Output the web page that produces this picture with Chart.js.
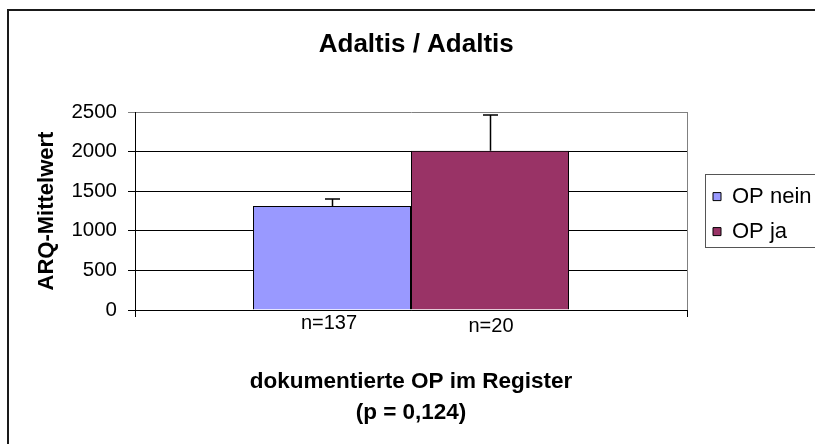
<!DOCTYPE html>
<html>
<head>
<meta charset="utf-8">
<script src="https://cdn.jsdelivr.net/npm/chart.js@4/dist/chart.umd.min.js"></script>
<style>
  html, body { margin: 0; padding: 0; background: #fff; }
  #wrap { width: 815px; height: 444px; }
</style>
</head>
<body>
<div id="wrap"><canvas id="c" width="815" height="444"></canvas></div>
<script>
// ---- data ----
const categories = ['dokumentierte OP im Register'];
const seriesNames = ['OP nein', 'OP ja'];
const meanValues = [1312, 2012];
const errorValues = [88, 450];
const sampleLabels = ['n=137', 'n=20'];
const yTicks = [0, 500, 1000, 1500, 2000, 2500];
const chartTitle = 'Adaltis / Adaltis';
const yTitle = 'ARQ-Mittelwert';
const xTitle = ['dokumentierte OP im Register', '(p = 0,124)'];

const colors = ['#9999FF', '#993366'];
const FONT = "'Liberation Sans', Arial, Helvetica, sans-serif";

Chart.defaults.font.family = FONT;
Chart.defaults.color = '#000';

const decorPlugin = {
  id: 'decor',
  afterLayout(chart) {
    const lg = chart.legend;
    if (lg) { lg.left += 13; lg.right += 13; }
    const tb = chart.titleBlock;
    if (tb) { tb.left += 12; tb.right += 12; }
  },
  beforeDraw(chart) {
    const ctx = chart.ctx;
    ctx.save();
    ctx.fillStyle = '#fff';
    ctx.fillRect(0, 0, chart.width, chart.height);
    ctx.fillStyle = '#1a1a1a';
    ctx.fillRect(7, 9, 2, 500);
    ctx.fillRect(7, 9, 900, 2);
    ctx.restore();
  },
  afterDraw(chart) {
    const ctx = chart.ctx;
    const a = chart.chartArea;
    ctx.save();
    ctx.strokeStyle = '#808080';
    ctx.lineWidth = 1;
    ctx.beginPath();
    ctx.moveTo(Math.round(a.right) + 0.5, a.top);
    ctx.lineTo(Math.round(a.right) + 0.5, a.bottom);
    ctx.stroke();
    const lg = chart.legend;
    if (lg && lg.legendHitBoxes && lg.legendHitBoxes.length) {
      const hb = lg.legendHitBoxes;
      const x0 = Math.round(hb[0].left) - 7.5;
      const y0 = Math.round(hb[0].top) - 11.5;
      const y1 = Math.round(hb[hb.length - 1].top + hb[hb.length - 1].height) + 4.5;
      ctx.strokeStyle = '#555';
      ctx.strokeRect(x0, y0, 300, y1 - y0);
    }
    ctx.restore();
  },
  afterDatasetsDraw(chart) {
    const ctx = chart.ctx;
    const yScale = chart.scales.y;
    const xScale = chart.scales.x;
    ctx.save();
    chart.data.datasets.forEach((ds, i) => {
      const meta = chart.getDatasetMeta(i);
      const bar = meta.data[0];
      if (!bar) return;
      const x = Math.round(bar.x) + 0.5;
      const yTop = yScale.getPixelForValue(meanValues[i] + errorValues[i]);
      ctx.strokeStyle = '#000';
      ctx.lineWidth = 1.5;
      ctx.beginPath();
      ctx.moveTo(x, bar.y);
      ctx.lineTo(x, yTop);
      ctx.moveTo(x - 7.5, yTop);
      ctx.lineTo(x + 7.5, yTop);
      ctx.stroke();
      ctx.fillStyle = '#000';
      ctx.font = '20px ' + FONT;
      ctx.textAlign = 'center';
      ctx.textBaseline = 'middle';
      const offs = [13, 16];
      ctx.fillText(sampleLabels[i], bar.x - (i === 0 ? 3 : -1), xScale.top + offs[i]);
    });
    ctx.restore();
  }
};

new Chart(document.getElementById('c'), {
  type: 'bar',
  data: {
    labels: categories,
    datasets: seriesNames.map((name, i) => ({
      label: name,
      data: [meanValues[i]],
      backgroundColor: colors[i],
      borderColor: '#000',
      borderWidth: 1,
      categoryPercentage: 0.5725,
      barPercentage: 1.0
    }))
  },
  options: {
    responsive: false,
    animation: false,
    devicePixelRatio: 1,
    layout: { padding: { top: 0, left: 0, right: 6.5, bottom: 15.8 } },
    plugins: {
      title: {
        display: true,
        text: chartTitle,
        color: '#000',
        font: { size: 26, weight: 'bold', family: FONT, lineHeight: 1.2 },
        padding: { top: 29.5, bottom: 51.3 }
      },
      legend: {
        display: true,
        position: 'right',
        align: 'center',
        labels: {
          color: '#000',
          font: { size: 22, family: FONT },
          boxWidth: 8,
          boxHeight: 8,
          padding: 13
        }
      },
      tooltip: { enabled: false }
    },
    scales: {
      x: {
        type: 'category',
        offset: true,
        ticks: { display: false },
        grid: {
          display: true,
          offset: true,
          drawOnChartArea: false,
          drawTicks: true,
          tickLength: 7,
          color: ['#000', '#808080']
        },
        border: { display: true, color: '#000', width: 1 },
        title: {
          display: true,
          text: xTitle,
          color: '#000',
          font: { size: 22.5, weight: 'bold', family: FONT, lineHeight: 1.37 },
          padding: { top: 0, bottom: 0 }
        },
        afterFit(scale) { scale.height = 118.2; }
      },
      y: {
        min: 0,
        max: 2500,
        afterBuildTicks(scale) { scale.ticks = yTicks.map(v => ({ value: v })); },
        ticks: {
          color: '#000',
          font: { size: 20.5, family: FONT },
          padding: 11,
          callback: (v) => String(v)
        },
        grid: {
          color: (c) => (c.tick && c.tick.value === 2500) ? '#808080' : '#000',
          lineWidth: 1,
          drawTicks: true,
          tickLength: 7
        },
        border: { display: true, color: '#000', width: 1 },
        title: {
          display: true,
          text: yTitle,
          color: '#000',
          font: { size: 22, weight: 'bold', family: FONT, lineHeight: 1.0 },
          padding: { top: 36, bottom: 0 }
        },
        afterFit(scale) { scale.width = 135; }
      }
    }
  },
  plugins: [decorPlugin]
});
</script>
</body>
</html>
